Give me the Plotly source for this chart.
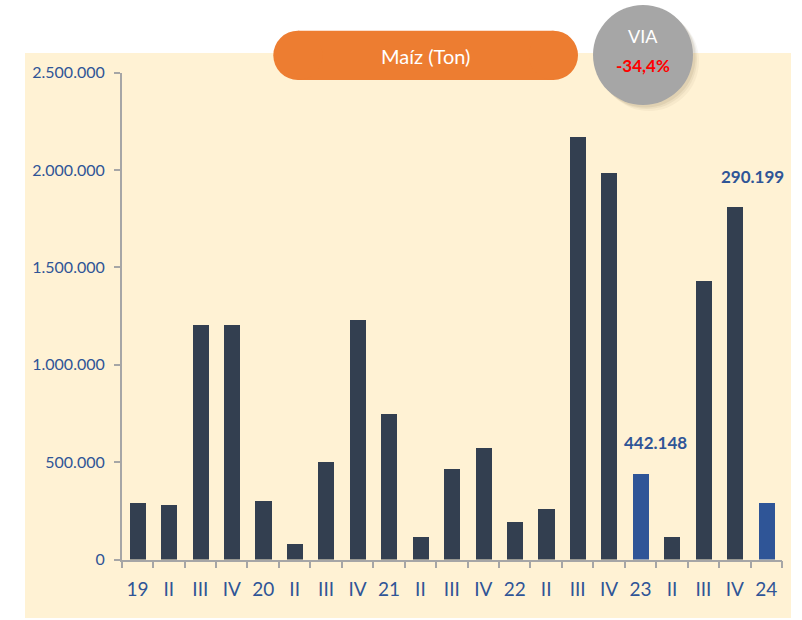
import plotly.graph_objects as go

# ---- data ----
period_labels = ["19", "II", "III", "IV", "20", "II", "III", "IV", "21", "II", "III", "IV",
                 "22", "II", "III", "IV", "23", "II", "III", "IV", "24"]
maiz_ton = [292000, 283000, 1204000, 1204000, 300000, 80000, 500000, 1230000, 747000, 116000,
            465000, 573000, 193000, 259000, 2170000, 1985000, 442148, 116000, 1430000, 1810000,
            290199]
highlight = [False] * 16 + [True] + [False] * 3 + [True]
y_ticks = [0, 500000, 1000000, 1500000, 2000000, 2500000]
title_text = "Maíz (Ton)"
via_label = "VIA"
via_value = "-34,4%"
label_23 = "442.148"
label_24 = "290.199"

W, H = 802, 620
DARK = "#333F50"
BLUE = "#2F5597"
TXT = "#2F5597"
CREAM = "#FFF2D4"
GRAY = "#A6A6A6"
FONT = "Lato, 'Gill Sans', sans-serif"


def px(x):
    return x / W


def py(y):
    return 1 - y / H


xs = list(range(len(maiz_ton)))
colors = [BLUE if h else DARK for h in highlight]

fig = go.Figure()
fig.add_trace(go.Bar(x=xs, y=maiz_ton, marker=dict(color=colors, line=dict(width=0)),
                     width=0.51, hoverinfo="y"))

shapes = []
# cream background
shapes.append(dict(type="rect", xref="paper", yref="paper", x0=px(25), x1=px(791),
                   y0=py(618), y1=py(53), fillcolor=CREAM, line=dict(width=0), layer="below"))
# title pill
r = 24.6
cx0, cx1, cy = 273.3 + r, 578 - r, 55.3
shapes.append(dict(type="rect", xref="paper", yref="paper", x0=px(cx0), x1=px(cx1),
                   y0=py(cy + r), y1=py(cy - r), fillcolor="#ED7D31", line=dict(width=0)))
for c in (cx0, cx1):
    shapes.append(dict(type="circle", xref="paper", yref="paper", x0=px(c - r), x1=px(c + r),
                       y0=py(cy + r), y1=py(cy - r), fillcolor="#ED7D31", line=dict(width=0)))
# VIA circle with soft shadow
vcx, vcy, vr = 643, 55, 50
for d, op in [(6, 0.06), (4, 0.08), (2.5, 0.1)]:
    shapes.append(dict(type="circle", xref="paper", yref="paper",
                       x0=px(vcx - vr + d), x1=px(vcx + vr + d),
                       y0=py(vcy + vr + d), y1=py(vcy - vr + d),
                       fillcolor="rgba(120,100,60,%s)" % op, line=dict(width=0)))
shapes.append(dict(type="circle", xref="paper", yref="paper", x0=px(vcx - vr), x1=px(vcx + vr),
                   y0=py(vcy + vr), y1=py(vcy - vr), fillcolor=GRAY, line=dict(width=0)))

annotations = [
    dict(text=title_text, xref="paper", yref="paper", x=px(425.6), y=py(56), showarrow=False,
         font=dict(family=FONT, size=20, color="white"), xanchor="center", yanchor="middle"),
    dict(text=via_label, xref="paper", yref="paper", x=px(643), y=py(36), showarrow=False,
         font=dict(family=FONT, size=18, color="white"), xanchor="center", yanchor="middle"),
    dict(text="<b>%s</b>" % via_value, xref="paper", yref="paper", x=px(643), y=py(65),
         showarrow=False, font=dict(family=FONT, size=17, color="#FF0000"),
         xanchor="center", yanchor="middle"),
    dict(text="<b>%s</b>" % label_23, x=16.49, y=600000, xref="x", yref="y", showarrow=False,
         font=dict(family=FONT, size=17, color=BLUE), xanchor="center", yanchor="middle"),
    dict(text="<b>%s</b>" % label_24, x=19.55, y=1966000, xref="x", yref="y", showarrow=False,
         font=dict(family=FONT, size=17, color=BLUE), xanchor="center", yanchor="middle"),
]

fig.update_layout(
    width=W, height=H,
    autosize=False,
    margin=dict(l=0, r=0, t=0, b=0, pad=0, autoexpand=False),
    paper_bgcolor="white",
    plot_bgcolor="rgba(0,0,0,0)",
    showlegend=False,
    separators=",.",
    shapes=shapes,
    annotations=annotations,
    bargap=0,
    xaxis=dict(
        domain=[px(121.7), px(782)],
        range=[-0.5, len(maiz_ton) - 0.5],
        tickmode="array", tickvals=xs, ticktext=period_labels,
        ticks="", showgrid=False, zeroline=False, automargin=False,
        showline=True, linecolor=GRAY, linewidth=1.5,
        tickfont=dict(family=FONT, size=19, color=TXT),
        ticklabelstandoff=12,
        minor=dict(tick0=-0.5, dtick=1, ticks="outside", ticklen=7, tickcolor=GRAY,
                   tickwidth=1.5, showgrid=False),
        fixedrange=True,
    ),
    yaxis=dict(
        domain=[py(559.5), py(72.7)],
        range=[0, 2500000],
        tickmode="array", tickvals=y_ticks, tickformat=",d",
        ticks="outside", ticklen=6, tickcolor=GRAY, tickwidth=1.5,
        showgrid=False, zeroline=False, automargin=False,
        showline=True, linecolor=GRAY, linewidth=1.5,
        tickfont=dict(family=FONT, size=16, color=TXT),
        ticklabelstandoff=6,
        fixedrange=True,
    ),
)

fig.write_html("out.html",
               config={"displayModeBar": False},
               post_script="document.body.style.margin='0';document.body.style.overflow='hidden';")
